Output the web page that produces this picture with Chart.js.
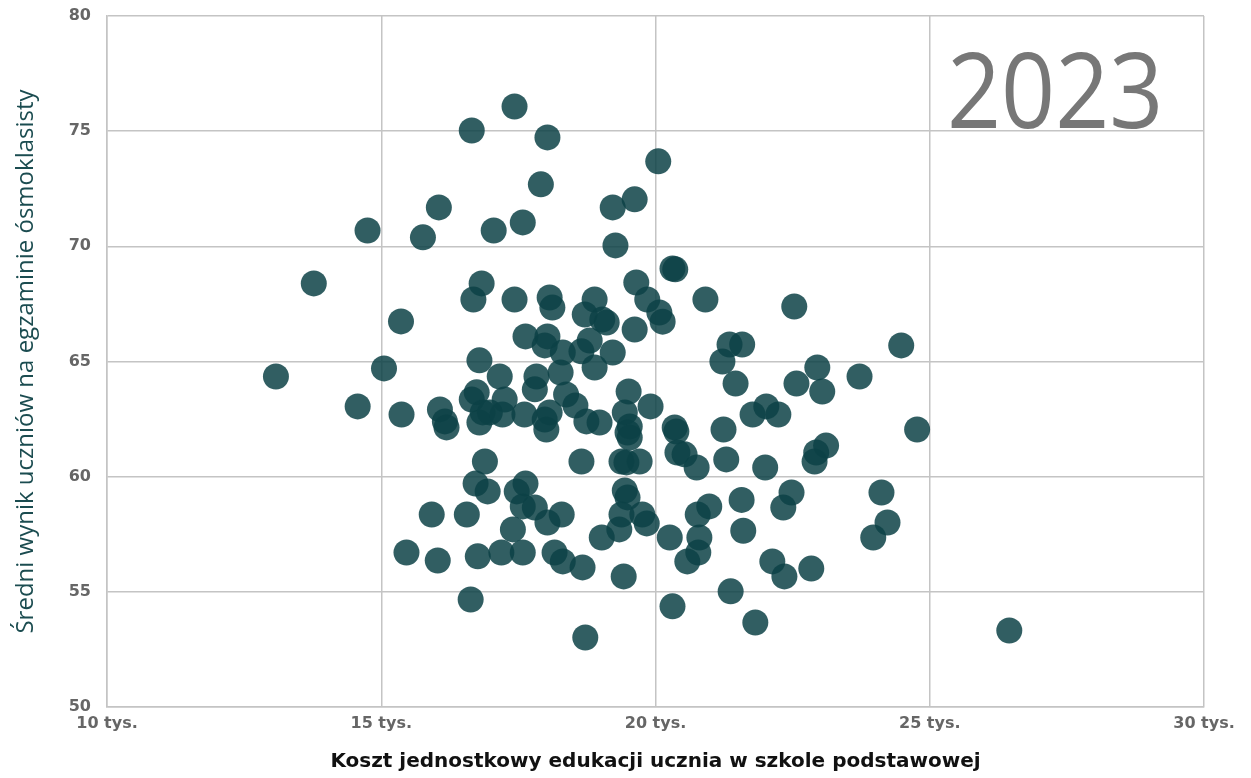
<!DOCTYPE html>
<html lang="pl">
<head>
<meta charset="utf-8">
<script src="https://cdn.jsdelivr.net/npm/chart.js@4.4.1/dist/chart.umd.min.js"></script>
<style>
  html, body { margin: 0; padding: 0; background: #fff; }
  #wrap { width: 1251px; height: 778px; position: relative; }
</style>
</head>
<body>
<div id="wrap"><canvas id="scatter"></canvas></div>
<script>
// koszt jednostkowy (zł) i średni wynik egzaminu ósmoklasisty (%)
const costs = [
  17430, 16650, 18030, 17910, 20050, 19220, 19620, 16050, 14750, 15760,
  17050, 17580, 19270, 13770, 16830, 16680, 17430, 18070, 18120, 20310,
  20360, 19650, 18890, 19850, 20910, 22530, 18710, 19030, 19110, 20070,
  20130, 15360, 19620, 13080, 15050, 14570, 15370, 16070, 16160, 16190,
  16790, 17160, 17630, 17980, 18030, 16740, 16650, 16850, 16790, 17250,
  16980, 17210, 17610, 17800, 17830, 18010, 17980, 18270, 18310, 18650,
  18800, 19220, 18890, 19510, 19910, 18370, 18540, 18740, 18980, 19440,
  19530, 19490, 19530, 20350, 20380, 18070, 21350, 21580, 21220, 21460,
  24480, 22950, 23720, 22570, 23040, 21770, 22020, 22240, 21240, 24770,
  23110, 22930, 22900, 21290, 22000, 20750, 20400, 20530, 16890, 18650,
  19380, 19470, 19710, 16720, 16940, 17470, 17630, 17580, 17800, 15920,
  16560, 17400, 18030, 18290, 15460, 16030, 16760, 17190, 17580, 18160,
  18310, 16630, 19440, 19490, 19380, 19340, 19760, 19840, 19020, 20260,
  18670, 19420, 20310, 18720, 20770, 20980, 20800, 20780, 20580, 21570,
  21600, 22480, 22330, 22130, 22350, 22840, 21370, 21820, 24120, 24230,
  23970, 26450
];
const scores = [
  76.07, 75.03, 74.73, 72.69, 73.69, 71.69, 72.04, 71.69, 70.69, 70.39,
  70.69, 71.04, 70.04, 68.39, 68.39, 67.69, 67.69, 67.78, 67.34, 69.04,
  69.00, 68.43, 67.69, 67.69, 67.69, 67.39, 67.04, 66.82, 66.69, 67.13,
  66.73, 66.74, 66.39, 64.35, 64.70, 63.05, 62.70, 62.92, 62.40, 62.14,
  65.05, 64.35, 66.09, 65.70, 66.09, 63.66, 63.35, 62.79, 62.35, 63.35,
  62.79, 62.70, 62.70, 63.79, 64.35, 62.05, 62.48, 64.52, 65.39, 65.44,
  65.91, 65.39, 64.74, 63.70, 63.05, 63.57, 63.09, 62.40, 62.35, 62.79,
  62.18, 61.92, 61.70, 62.14, 61.96, 62.79, 65.74, 65.74, 65.00, 64.04,
  65.70, 64.74, 64.35, 64.04, 63.70, 62.70, 63.05, 62.70, 62.05, 62.05,
  61.35, 61.05, 60.66, 60.75, 60.40, 60.40, 61.05, 60.97, 60.66, 60.66,
  60.66, 60.62, 60.66, 59.70, 59.36, 59.36, 59.70, 58.71, 58.66, 58.36,
  58.36, 57.71, 58.01, 58.36, 56.71, 56.36, 56.54, 56.71, 56.71, 56.71,
  56.32, 54.67, 59.40, 59.10, 58.36, 57.71, 58.36, 57.97, 57.36, 57.36,
  56.06, 55.67, 54.37, 53.02, 58.36, 58.71, 57.36, 56.71, 56.32, 58.99,
  57.65, 59.31, 58.66, 56.32, 55.67, 56.01, 55.02, 53.67, 59.31, 58.01,
  57.36, 53.32
];

const xTicks = [10000, 15000, 20000, 25000, 30000];
const yTicks = [50, 55, 60, 65, 70, 75, 80];
const yearLabel = '2023';

const points = costs.map((c, i) => ({ x: c, y: scores[i] }));

// big year label in the top-right corner of the plot
const yearPlugin = {
  id: 'yearLabel',
  afterDatasetsDraw(chart) {
    const { ctx, chartArea } = chart;
    ctx.save();
    ctx.fillStyle = '#777777';
    ctx.font = '104px "Open Sans", "Noto Sans", sans-serif';
    ctx.textAlign = 'left';
    ctx.textBaseline = 'alphabetic';
    ctx.scale(0.91, 1);
    ctx.fillText(yearLabel, (chartArea.right - 257) / 0.91, chartArea.top + 112);
    ctx.restore();
  },
};

new Chart(document.getElementById('scatter'), {
  type: 'scatter',
  data: {
    datasets: [{
      label: yearLabel,
      data: points,
      backgroundColor: 'rgba(13,66,70,0.85)',
      borderWidth: 0,
      pointRadius: 13,
      pointHoverRadius: 13,
    }],
  },
  options: {
    responsive: true,
    maintainAspectRatio: false,
    animation: false,
    layout: { padding: { left: 8, right: 47, top: 0, bottom: 4 } },
    plugins: {
      legend: { display: false },
      tooltip: { enabled: false },
    },
    scales: {
      x: {
        type: 'linear',
        min: 10000,
        max: 30000,
        afterBuildTicks: s => { s.ticks = xTicks.map(v => ({ value: v })) },
        afterFit: s => { s.height = 67 },
        grid: { color: '#c4c4c4', lineWidth: 1.5, drawTicks: false },
        border: { color: '#c4c4c4', width: 1.5 },
        ticks: {
          color: '#666666',
          padding: 7,
          maxRotation: 0,
          font: { family: '"DejaVu Sans", sans-serif', size: 16, weight: 'bold' },
          callback: v => `${v / 1000} tys.`,
        },
        title: {
          display: true,
          text: 'Koszt jednostkowy edukacji ucznia w szkole podstawowej',
          color: '#111111',
          padding: { top: 0, bottom: 0 },
          font: { family: '"DejaVu Sans", sans-serif', size: 20, weight: 'bold' },
        },
      },
      y: {
        min: 50,
        max: 80,
        afterBuildTicks: s => { s.ticks = yTicks.map(v => ({ value: v })) },
        afterFit: s => { s.width = 99; s.paddingTop = 16 },
        grid: { color: '#c4c4c4', lineWidth: 1.5, drawTicks: false },
        border: { color: '#c4c4c4', width: 1.5 },
        ticks: {
          color: '#666666',
          padding: 16,
          font: { family: '"DejaVu Sans", sans-serif', size: 16, weight: 'bold' },
        },
        title: {
          display: true,
          text: 'Średni wynik uczniów na egzaminie ósmoklasisty',
          color: '#1b4c50',
          padding: { top: 4, bottom: 0 },
          font: { family: '"Open Sans", sans-serif', size: 24 },
        },
      },
    },
  },
  plugins: [yearPlugin],
});
</script>
</body>
</html>
